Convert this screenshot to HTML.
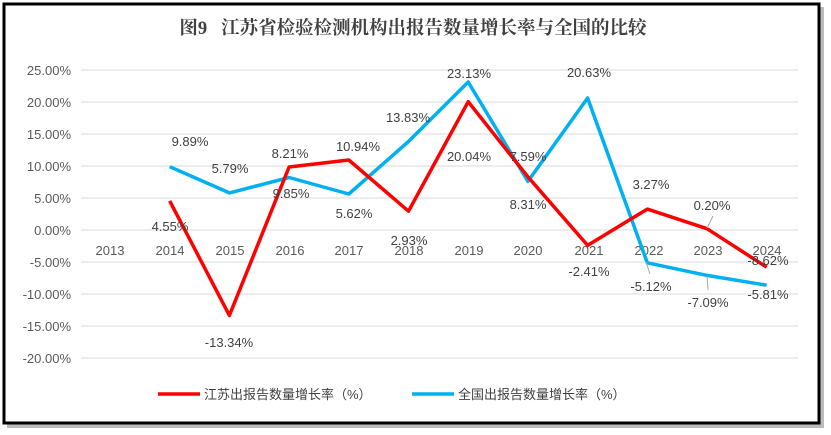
<!DOCTYPE html>
<html><head><meta charset="utf-8"><style>
html,body{margin:0;padding:0;background:#fff;}
svg{display:block;}
</style></head><body>
<svg width="831" height="435" viewBox="0 0 831 435" xmlns="http://www.w3.org/2000/svg" font-family="Liberation Sans, Noto Sans CJK SC, sans-serif">
<rect x="0" y="0" width="831" height="435" fill="#fff"/>
<rect x="7" y="7" width="817" height="421" fill="#bbb"/>
<rect x="4" y="4" width="815" height="419" fill="#fff" stroke="#000" stroke-width="3"/>
<text x="413" y="34" text-anchor="middle" font-size="18.5" font-weight="bold" fill="#404040" font-family="Liberation Serif, Noto Serif CJK SC, serif">图9&#160;&#160;&#160;江苏省检验检测机构出报告数量增长率与全国的比较</text>
<g stroke="#d9d9d9" stroke-width="1">
<line x1="81" x2="798" y1="70" y2="70"/><line x1="81" x2="798" y1="102" y2="102"/>
<line x1="81" x2="798" y1="134" y2="134"/><line x1="81" x2="798" y1="166" y2="166"/>
<line x1="81" x2="798" y1="198" y2="198"/><line x1="81" x2="798" y1="230" y2="230"/>
<line x1="81" x2="798" y1="262" y2="262"/><line x1="81" x2="798" y1="294" y2="294"/>
<line x1="81" x2="798" y1="326" y2="326"/><line x1="81" x2="798" y1="358" y2="358"/>
</g>
<g font-size="13" fill="#595959" text-anchor="end">
<text x="71" y="75">25.00%</text><text x="71" y="107">20.00%</text><text x="71" y="139">15.00%</text>
<text x="71" y="171">10.00%</text><text x="71" y="203">5.00%</text><text x="71" y="235">0.00%</text>
<text x="71" y="267">-5.00%</text><text x="71" y="299">-10.00%</text><text x="71" y="331">-15.00%</text>
<text x="71" y="363">-20.00%</text>
</g>
<g font-size="13" fill="#595959" text-anchor="middle">
<text x="110" y="255">2013</text><text x="170" y="255">2014</text><text x="230" y="255">2015</text>
<text x="290" y="255">2016</text><text x="349" y="255">2017</text><text x="409" y="255">2018</text>
<text x="469" y="255">2019</text><text x="528" y="255">2020</text><text x="589" y="255">2021</text>
<text x="649" y="255">2022</text><text x="708" y="255">2023</text><text x="767" y="255">2024</text>
</g>
<polyline fill="none" stroke="#00b0f0" stroke-width="3.5" stroke-linejoin="round" points="169.7,166.7 229.4,192.9 289.1,177.5 348.8,194 408.5,141.5 468.2,82 527.9,181.4 587.6,98 647.3,262.8 707,275.4 766.7,285.2"/>
<polyline fill="none" stroke="#ff0000" stroke-width="3.5" stroke-linejoin="round" points="169.7,200.9 229.4,315.4 289.1,167 348.8,160 408.5,211.2 468.2,101.7 527.9,176.8 587.6,245.4 647.3,209.1 707,228.7 766.7,267.2"/>
<g stroke="#a6a6a6" stroke-width="1">
<line x1="707" y1="228" x2="713" y2="216"/>
<line x1="707" y1="276" x2="708" y2="290"/>
<line x1="646" y1="262" x2="650" y2="274"/>
</g>
<g font-size="13" fill="#404040" text-anchor="middle">
<text x="190" y="146">9.89%</text><text x="230" y="173">5.79%</text><text x="290" y="158">8.21%</text>
<text x="358" y="151">10.94%</text><text x="408" y="122">13.83%</text><text x="469" y="78">23.13%</text>
<text x="528" y="161">7.59%</text><text x="589" y="77">20.63%</text><text x="651" y="189">3.27%</text>
<text x="712" y="210">0.20%</text><text x="768" y="265">-8.62%</text>
<text x="170" y="231">4.55%</text><text x="229" y="347">-13.34%</text><text x="291" y="198">9.85%</text>
<text x="354" y="218">5.62%</text><text x="409" y="245">2.93%</text><text x="469" y="161">20.04%</text>
<text x="528" y="209">8.31%</text><text x="589" y="276">-2.41%</text><text x="651" y="291">-5.12%</text>
<text x="708" y="307">-7.09%</text><text x="768" y="299">-5.81%</text>
</g>
<line x1="158" y1="394" x2="200" y2="394" stroke="#ff0000" stroke-width="3.5"/>
<text x="204" y="399" font-size="13" fill="#404040">江苏出报告数量增长率（%）</text>
<line x1="412" y1="394" x2="454" y2="394" stroke="#00b0f0" stroke-width="3.5"/>
<text x="458" y="399" font-size="13" fill="#404040">全国出报告数量增长率（%）</text>
</svg>
</body></html>
